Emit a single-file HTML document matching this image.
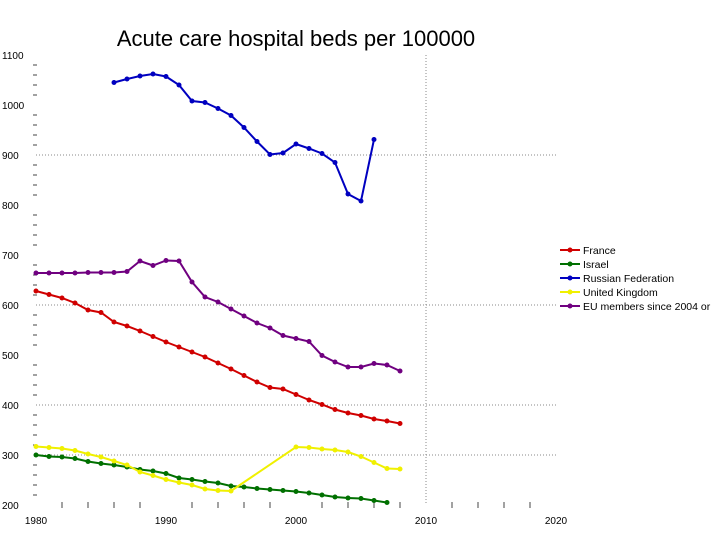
<!DOCTYPE html>
<html><head><meta charset="utf-8"><style>
body{margin:0;background:#fff;width:720px;height:540px;overflow:hidden;font-family:"Liberation Sans",sans-serif}
</style></head><body>
<svg id="c" width="720" height="540">
<text x="296" y="46" text-anchor="middle" font-size="22" fill="#000">Acute care hospital beds per 100000</text>
<g id="grid"></g><g id="axes"></g><g id="series"></g><g id="legend"></g>
</svg>
<script>
const yTicks=[200,300,400,500,600,700,800,900,1000,1100];
const xTicks=[1980,1990,2000,2010,2020];
const xLabels=["1980","1990","2000","2010","2020"];
const gridY=[300,400,600,900];
const gridX=[2010];
const names=["France","Israel","Russian Federation","United Kingdom","EU members since 2004 or"];
const colors=["#d00000","#007000","#0000c0","#f0f000","#700080"];
const frYears=[1980,1981,1982,1983,1984,1985,1986,1987,1988,1989,1990,1991,1992,1993,1994,1995,1996,1997,1998,1999,2000,2001,2002,2003,2004,2005,2006,2007,2008];
const frVals=[628,621,614,604,590,585,566,558,548,537,526,516,506,496,484,472,459,446,435,432,421,410,401,391,384,379,372,368,363];
const israelYears=[1980,1981,1982,1983,1984,1985,1986,1987,1988,1989,1990,1991,1992,1993,1994,1995,1996,1997,1998,1999,2000,2001,2002,2003,2004,2005,2006,2007];
const israelVals=[300,297,296,293,287,283,280,276,271,268,263,254,251,247,244,238,236,233,231,229,227,224,220,216,214,213,209,205];
const rusYears=[1986,1987,1988,1989,1990,1991,1992,1993,1994,1995,1996,1997,1998,1999,2000,2001,2002,2003,2004,2005,2006];
const rusVals=[1045,1052,1058,1062,1057,1040,1008,1005,993,979,955,927,901,904,922,913,903,885,822,808,931];
const ukYears=[1980,1981,1982,1983,1984,1985,1986,1987,1988,1989,1990,1991,1992,1993,1994,1995,2000,2001,2002,2003,2004,2005,2006,2007,2008];
const ukVals=[317,315,313,309,302,296,288,280,266,259,251,245,240,232,229,228,316,315,312,310,306,297,285,273,272];
const euYears=[1980,1981,1982,1983,1984,1985,1986,1987,1988,1989,1990,1991,1992,1993,1994,1995,1996,1997,1998,1999,2000,2001,2002,2003,2004,2005,2006,2007,2008];
const euVals=[664,664,664,664,665,665,665,667,688,679,689,688,646,616,606,592,578,564,554,539,533,527,499,486,476,476,483,480,468];
</script>
<script>
const NS="http://www.w3.org/2000/svg";
const X=y=>36+(y-1980)*13, Y=v=>505-(v-200)*0.5;
function mk(t,a,p){const e=document.createElementNS(NS,t);for(const k in a)e.setAttribute(k,a[k]);p.appendChild(e);return e;}
const grid=document.getElementById('grid'),axes=document.getElementById('axes'),ser=document.getElementById('series'),leg=document.getElementById('legend');
gridY.forEach(v=>{const l=mk('line',{x1:36,x2:556,y1:Y(v),y2:Y(v),stroke:'#888','stroke-dasharray':'1,2'},grid);

});
gridX.forEach(v=>{const l=mk('line',{x1:X(v),x2:X(v),y1:55,y2:505,stroke:'#888','stroke-dasharray':'1,2'},grid);

});
yTicks.forEach(v=>{const t=mk('text',{x:2,y:Y(v)+4,'font-size':10,fill:'#000'},axes);t.textContent=v;


[20,40,60,80].forEach(m=>{if(v<1100){const l=mk('line',{x1:33,x2:37,y1:Y(v+m),y2:Y(v+m),stroke:'#444'},axes);

}});});
xTicks.forEach((v,i)=>{const t=mk('text',{x:X(v),y:524,'font-size':10,'text-anchor':'middle',fill:'#000'},axes);t.textContent=xLabels[i];


if(v<2020)for(let m=2;m<10;m+=2){const l=mk('line',{x1:X(v+m),x2:X(v+m),y1:502,y2:508,stroke:'#444'},axes);

}});
const S=[[frYears,frVals],[israelYears,israelVals],[rusYears,rusVals],[ukYears,ukVals],[euYears,euVals]];
S.forEach(([ys,vs],i)=>{const g=mk('g',{},ser);


const pts=ys.map((y,j)=>X(y)+','+Y(vs[j])).join(' ');
const pl=mk('polyline',{points:pts,fill:'none',stroke:colors[i],'stroke-width':2},g);


ys.forEach((y,j)=>{const c=mk('circle',{cx:X(y),cy:Y(vs[j]),r:2.5,fill:colors[i]},g);

});});
names.forEach((n,i)=>{const y=250+i*14;
const l=mk('line',{x1:560,x2:580,y1:y,y2:y,stroke:colors[i],'stroke-width':2},leg);


const c=mk('circle',{cx:570,cy:y,r:2.5,fill:colors[i]},leg);


const t=mk('text',{x:583,y:y+4,'font-size':10.5,fill:'#000'},leg);t.textContent=n;

});
</script>
</body></html>
